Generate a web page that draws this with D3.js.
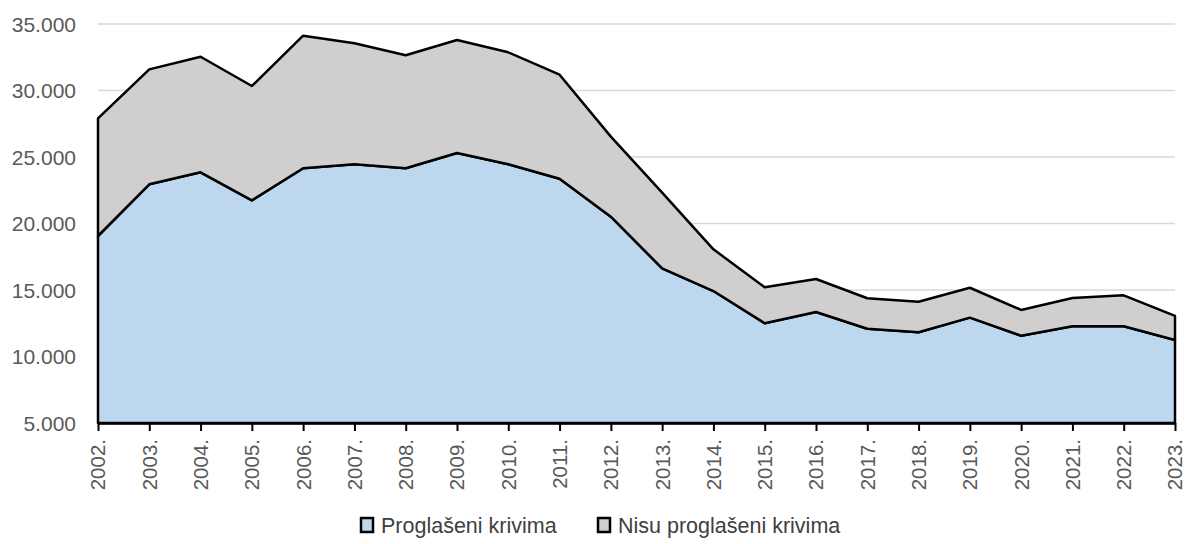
<!DOCTYPE html>
<html>
<head>
<meta charset="utf-8">
<script src="https://cdn.jsdelivr.net/npm/d3@7"></script>
<style>
  body { margin: 0; background: #fff; }
  svg text { font-family: "Liberation Sans", Arial, sans-serif; fill: #595959; }
</style>
</head>
<body>
<div id="graf"></div>
<script>
// podaci
const godine = ["2002.", "2003.", "2004.", "2005.", "2006.", "2007.", "2008.", "2009.", "2010.", "2011.", "2012.",
  "2013.", "2014.", "2015.", "2016.", "2017.", "2018.", "2019.", "2020.", "2021.", "2022.", "2023."]
const proglaseni = [19060, 22950, 23850, 21740, 24150, 24450, 24150, 25300, 24450, 23370, 20510,
  16630, 14920, 12500, 13350, 12090, 11820, 12920, 11560, 12270, 12270, 11240]
const nisuProglaseni = [8850, 8640, 8690, 8600, 9970, 9100, 8500, 8500, 8420, 7820, 6020,
  5690, 3140, 2700, 2480, 2290, 2300, 2250, 1940, 2130, 2330, 1810]
const serije = ["Proglašeni krivima", "Nisu proglašeni krivima"]
const boje = ["#bdd7ee", "#d0cece"]
const yTicks = [5000, 10000, 15000, 20000, 25000, 30000, 35000]

const anchoTotal = 1186
const altoTotal = 544
const margins = { top: 24, right: 11, bottom: 121, left: 98 }
const ancho = anchoTotal - margins.left - margins.right
const alto = altoTotal - margins.top - margins.bottom

const svg = d3.select("#graf").append("svg").attr("width", anchoTotal).attr("height", altoTotal)
const g = svg.append("g").attr("transform", `translate(${margins.left}, ${margins.top})`)

const x = d3.scalePoint().domain(godine).range([0, ancho])
const y = d3.scaleLinear().domain([5000, 35000]).range([alto, 0])

const fmt = d => d3.format(",")(d).replace(/,/g, ".")

// mreza
g.selectAll(".grid").data(yTicks.slice(1)).enter().append("line")
  .attr("x1", 0).attr("x2", ancho)
  .attr("y1", d => y(d)).attr("y2", d => y(d))
  .attr("stroke", "#d9d9d9").attr("stroke-width", 1.5)

// y oznake
g.selectAll(".ylab").data(yTicks).enter().append("text")
  .attr("x", -22).attr("y", d => y(d)).attr("dy", "0.36em")
  .attr("text-anchor", "end").style("font-size", "21px")
  .text(fmt)

// stack
const datos = godine.map((god, i) => ({ god, a: proglaseni[i], b: nisuProglaseni[i] }))
const stack = d3.stack().keys(["a", "b"])(datos)
const area = d3.area()
  .x(d => x(d.data.god))
  .y0(d => y(Math.max(d[0], 5000)))
  .y1(d => y(d[1]))

g.selectAll(".capa").data(stack).enter().append("path")
  .attr("d", area)
  .attr("fill", (d, i) => boje[i])
  .attr("stroke", "#000").attr("stroke-width", 2.5).attr("stroke-linejoin", "round")

// x os
const xAxis = g.append("g").attr("transform", `translate(0, ${alto})`)
  .call(d3.axisBottom(x).tickSize(8).tickSizeOuter(0).tickFormat(""))
xAxis.select(".domain").attr("stroke", "#000").attr("stroke-width", 2.5)
xAxis.selectAll(".tick line").attr("stroke", "#000").attr("stroke-width", 2)

g.selectAll(".xlab").data(godine).enter().append("text")
  .attr("transform", d => `translate(${x(d)}, ${alto + 16}) rotate(-90)`)
  .attr("text-anchor", "end").attr("dy", "0.36em")
  .style("font-size", "20.5px")
  .text(d => d)

// legenda
const leg = svg.append("g").attr("transform", "translate(361, 525)")
const pos = [0, 237]
serije.forEach((s, i) => {
  leg.append("rect").attr("x", pos[i]).attr("y", -7).attr("width", 12).attr("height", 14)
    .attr("fill", boje[i]).attr("stroke", "#000").attr("stroke-width", 2.5)
  leg.append("text").attr("x", pos[i] + 20).attr("y", 0).attr("dy", "0.36em")
    .style("font-size", "21.5px").style("fill", "#404040").text(s)
})
</script>
</body>
</html>
